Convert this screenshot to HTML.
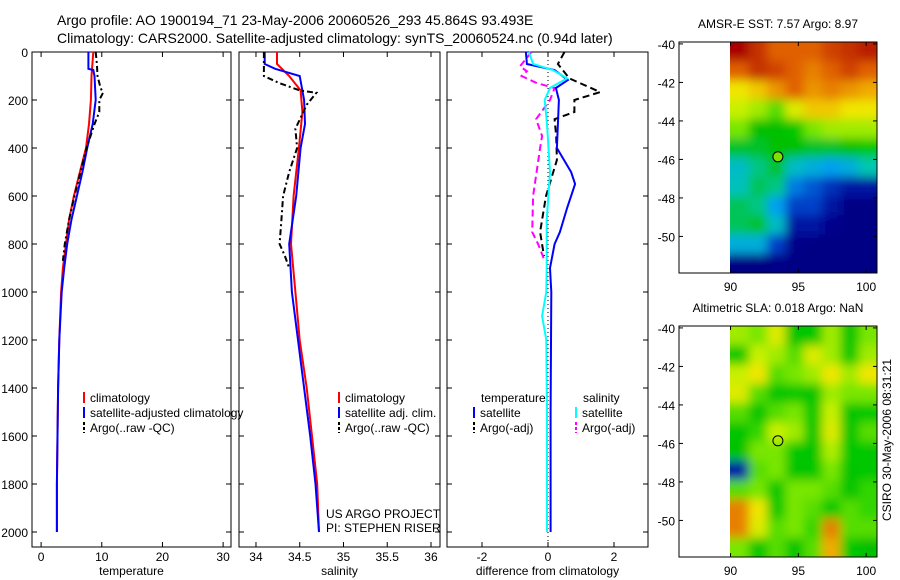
<!DOCTYPE html>
<html><head><meta charset="utf-8">
<style>
html,body{margin:0;padding:0;background:#fff;}
svg{display:block;font-family:"Liberation Sans",sans-serif;}
</style></head>
<body>
<svg id="fig" width="900" height="580" viewBox="0 0 900 580" xmlns="http://www.w3.org/2000/svg">
<defs>
<filter id="smooth" x="-10%" y="-10%" width="120%" height="120%"><feGaussianBlur stdDeviation="5"/></filter>
<clipPath id="clipSst"><rect x="730" y="42" width="147" height="231"/></clipPath>
<clipPath id="clipSla"><rect x="730" y="326" width="147" height="231"/></clipPath>
</defs>
<rect width="900" height="580" fill="#fff"/>
<text x="57" y="25" font-size="14">Argo profile: AO 1900194_71 23-May-2006 20060526_293 45.864S 93.493E</text>
<text x="57" y="43" font-size="14">Climatology: CARS2000. Satellite-adjusted climatology: synTS_20060524.nc (0.94d later)</text>
<g id="plots"></g>
</svg>
<script>
// ---- depth profile data ----
const tDepth = [0,100,200,300,400,500,600,700,800,900,1000,1200,1400,1600,1800,2000];
const tClim = [8.6,8.3,8.2,7.9,7.4,6.4,5.4,4.6,4.1,3.6,3.3,3.0,2.8,2.7,2.6,2.6];
const tSatDepth = [0,70,75,100,200,300,400,500,600,700,800,900,1000,1200,1400,1600,1800,2000];
const tSat = [7.8,7.8,8.6,8.8,9.0,8.5,7.6,6.8,5.9,5.0,4.3,3.8,3.4,3.0,2.8,2.7,2.6,2.6];
const argoDepth = [0,50,100,150,170,200,250,300,400,500,600,700,800,870];
const tArgo = [9.0,9.2,9.3,9.8,10.2,9.6,9.6,8.8,7.5,6.5,5.5,4.6,3.9,3.6];

const sDepth = [0,50,100,160,250,400,600,800,1000,1200,1400,1600,1800,2000];
const sClim = [34.24,34.24,34.38,34.51,34.53,34.49,34.43,34.40,34.45,34.50,34.58,34.64,34.70,34.72];
const sSatDepth = [0,50,70,100,200,300,400,600,800,1000,1200,1400,1600,1800,2000];
const sSat = [34.10,34.10,34.22,34.50,34.55,34.56,34.51,34.46,34.38,34.41,34.48,34.55,34.62,34.68,34.72];
const sArgoDepth = [0,100,130,160,170,220,320,400,500,600,700,800,850,900];
const sArgo = [34.09,34.09,34.27,34.50,34.69,34.58,34.45,34.47,34.38,34.31,34.29,34.27,34.33,34.38];

const dSatTDepth = [0,50,75,117,150,200,300,400,500,550,650,750,800,900,1000,1500,2000];
const dSatT = [-0.67,-0.64,0.2,0.6,0.24,0.33,0.3,0.27,0.7,0.82,0.58,0.36,0.2,0.06,0.1,0.08,0.08];
const dSatSDepth = [0,50,75,110,150,200,300,500,700,900,1000,1100,1200,1500,2000];
const dSatS = [-0.58,-0.45,0.15,0.58,0.06,-0.1,-0.03,0.06,-0.04,-0.04,-0.05,-0.18,-0.05,-0.03,-0.03];
const dArgoSDepth = [0,60,80,100,130,150,200,280,350,400,600,750,800,870];
const dArgoS = [-0.5,-0.85,-0.64,-0.8,-0.33,0.2,0.06,-0.36,-0.18,-0.24,-0.45,-0.48,-0.3,-0.1];
const dArgoTDepth = [0,50,110,167,200,250,280,350,450,600,750,850];
const dArgoT = [0.5,0.3,0.65,1.58,0.8,0.8,0.2,0.25,0.27,-0.06,-0.24,-0.12];

const depthTicks = [0,200,400,600,800,1000,1200,1400,1600,1800,2000];
const tTicks = [0,10,20,30];
const sTicks = [34,34.5,35,35.5,36];
const sTickLabels = ['34','34.5','35','35.5','36'];
const dTicks = [-2,0,2];

// ---- map data (rows north->south, lat -40..-52; cols lon 90..100.8) ----
const sstGrid = [
[0.95,0.9,0.85,0.85,0.85,0.88,0.9,0.92],
[0.85,0.9,0.88,0.85,0.82,0.85,0.88,0.85],
[0.72,0.75,0.8,0.85,0.8,0.82,0.8,0.78],
[0.68,0.65,0.6,0.7,0.75,0.75,0.72,0.72],
[0.62,0.42,0.42,0.55,0.62,0.65,0.65,0.65],
[0.4,0.4,0.42,0.42,0.4,0.4,0.44,0.55],
[0.32,0.36,0.4,0.32,0.3,0.28,0.3,0.34],
[0.33,0.38,0.36,0.25,0.22,0.18,0.15,0.15],
[0.38,0.36,0.28,0.2,0.2,0.15,0.05,0.05],
[0.38,0.4,0.32,0.15,0.15,0.12,0.05,0.05],
[0.3,0.3,0.2,0.08,0.05,0.05,0.05,0.05],
[0.05,0.05,0.08,0.05,0.05,0.05,0.05,0.05]];
const slaGrid = [
[0.65,0.62,0.7,0.5,0.55,0.65,0.5,0.62],
[0.55,0.68,0.65,0.6,0.7,0.65,0.55,0.65],
[0.68,0.72,0.6,0.62,0.65,0.72,0.65,0.72],
[0.7,0.6,0.5,0.55,0.5,0.65,0.62,0.62],
[0.6,0.5,0.6,0.62,0.55,0.68,0.5,0.55],
[0.5,0.58,0.68,0.65,0.52,0.7,0.5,0.6],
[0.45,0.62,0.62,0.55,0.5,0.66,0.55,0.55],
[0.15,0.6,0.62,0.5,0.52,0.62,0.5,0.55],
[0.6,0.62,0.55,0.62,0.62,0.6,0.48,0.58],
[0.82,0.72,0.55,0.62,0.6,0.55,0.6,0.58],
[0.82,0.7,0.6,0.62,0.58,0.82,0.6,0.6],
[0.62,0.52,0.6,0.5,0.6,0.78,0.55,0.42]];
const latTicks = [-40,-42,-44,-46,-48,-50];
const lonTicks = [90,95,100];

const NS='http://www.w3.org/2000/svg';
const root=document.getElementById('plots');
function mk(tag,attrs,parent){const e=document.createElementNS(NS,tag);for(const k in attrs)e.setAttribute(k,attrs[k]);(parent||root).appendChild(e);return e;}

const yTop=52, yBot=547;
const yD = d => yTop + d*0.24;

function panel(name,x0,x1,xmin,xmax,ticks,labels,xlabel,showY){
  const xs=v=>x0+(v-xmin)/(xmax-xmin)*(x1-x0);
  const g=mk('g',{});
  
  
  mk('rect',{x:x0,y:yTop,width:x1-x0,height:yBot-yTop,fill:'none',stroke:'#000','stroke-width':1},g);
  depthTicks.forEach(d=>{
    mk('line',{x1:x0,x2:x0+5,y1:yD(d),y2:yD(d),stroke:'#000'},g);
    mk('line',{x1:x1,x2:x1-5,y1:yD(d),y2:yD(d),stroke:'#000'},g);
    if(showY){const t=mk('text',{x:28,y:yD(d)+5,'font-size':12,'text-anchor':'end'},g);t.textContent=d;
      
      }
  });
  ticks.forEach((v,i)=>{
    mk('line',{x1:xs(v),x2:xs(v),y1:yBot,y2:yBot-5,stroke:'#000'},g);
    mk('line',{x1:xs(v),x2:xs(v),y1:yTop,y2:yTop+5,stroke:'#000'},g);
    const t=mk('text',{x:xs(v),y:yBot+14,'font-size':12,'text-anchor':'middle'},g);t.textContent=labels[i];
    
    
  });
  const xl=mk('text',{x:(x0+x1)/2,y:575,'font-size':12,'text-anchor':'middle'},g);xl.textContent=xlabel;
  
  
  return {g,xs};
}
function line(p,vals,depths,color,dash,name){
  const pts=vals.map((v,i)=>p.xs(v).toFixed(1)+','+yD(depths[i]).toFixed(1)).join(' ');
  const a={points:pts,fill:'none',stroke:color,'stroke-width':2};
  if(dash)a['stroke-dasharray']=dash;
  const l=mk('polyline',a,p.g);
  
  
}
function legend(g,x,y,items){
  items.forEach((it,i)=>{
    const yy=y+i*15;
    const a={x1:x,x2:x,y1:yy-10,y2:yy+1,stroke:it[1],'stroke-width':2};
    if(it[2])a['stroke-dasharray']='3,2';
    mk('line',a,g);
    const t=mk('text',{x:x+6,y:yy,'font-size':12},g);t.textContent=it[0];
    
    
  });
}

// Panel 1 temperature
const p1=panel('temperature-panel',32,231,-1.5,31.3,tTicks,tTicks.map(String),'temperature',true);
line(p1,tClim,tDepth,'#f00',null,'temp-climatology-line');
line(p1,tSat,tSatDepth,'#00f',null,'temp-satellite-line');
line(p1,tArgo,argoDepth,'#000','6,3,2,3','temp-argo-line');
legend(p1.g,84,402,[['climatology','#f00'],['satellite-adjusted climatology','#00f'],['Argo(..raw -QC)','#000',1]]);

// Panel 2 salinity
const p2=panel('salinity-panel',239,440,33.806,36.103,sTicks,sTickLabels,'salinity',false);
line(p2,sClim,sDepth,'#f00',null,'sal-climatology-line');
line(p2,sSat,sSatDepth,'#00f',null,'sal-satellite-line');
line(p2,sArgo,sArgoDepth,'#000','6,3,2,3','sal-argo-line');
legend(p2.g,339,402,[['climatology','#f00'],['satellite adj. clim.','#00f'],['Argo(..raw -QC)','#000',1]]);
const pr1=mk('text',{x:326,y:518,'font-size':12},p2.g);pr1.textContent='US ARGO PROJECT';


const pr2=mk('text',{x:326,y:532,'font-size':12},p2.g);pr2.textContent='PI: STEPHEN RISER';



// Panel 3 differences
const p3=panel('difference-panel',447,648,-3.06,3.03,dTicks,dTicks.map(String),'difference from climatology',false);
mk('line',{x1:p3.xs(0),x2:p3.xs(0),y1:yTop,y2:yBot,stroke:'#000','stroke-dasharray':'1,3'},p3.g);
line(p3,dArgoT,dArgoTDepth,'#000','7,4','diff-argo-temp-line');
line(p3,dArgoS,dArgoSDepth,'#f0f','7,4','diff-argo-sal-line');
line(p3,dSatT,dSatTDepth,'#00f',null,'diff-sat-temp-line');
line(p3,dSatS,dSatSDepth,'#0ff',null,'diff-sat-sal-line');
const lt=mk('text',{x:481,y:402,'font-size':12},p3.g);lt.textContent='temperature';


const ls=mk('text',{x:583,y:402,'font-size':12},p3.g);ls.textContent='salinity';


legend(p3.g,474,417,[['satellite','#00f'],['Argo(-adj)','#000',1]]);
legend(p3.g,576,417,[['satellite','#0ff'],['Argo(-adj)','#f0f',1]]);

// ---- maps ----
const cmapStops=[[0,[0,0,128]],[0.12,[0,0,140]],[0.2,[0,64,200]],[0.28,[0,160,240]],[0.34,[0,200,176]],[0.42,[0,192,0]],[0.55,[0,200,0]],[0.62,[120,230,0]],[0.68,[200,240,0]],[0.72,[240,230,0]],[0.78,[240,170,0]],[0.85,[224,96,0]],[0.95,[168,0,0]],[1,[150,0,0]]];
function cmap(v){
  for(let i=1;i<cmapStops.length;i++){
    if(v<=cmapStops[i][0]){const a=cmapStops[i-1],b=cmapStops[i];const t=(v-a[0])/(b[0]-a[0]);
      const c=a[1].map((x,k)=>Math.round(x+(b[1][k]-x)*t));return 'rgb('+c.join(',')+')';}
  }
  return 'rgb(150,0,0)';
}
function map(name,top,grid,title,filledMarker,clipId){
  const x0=679,x1=877,y0=top,lonMin=86.2,lonMax=100.8,latMax=-39.9,latMin=-51.9;
  const h=231;
  const lx=lon=>x0+(lon-lonMin)/(lonMax-lonMin)*(x1-x0);
  const ly=lat=>y0+(latMax-lat)/(latMax-latMin)*h;
  const g=mk('g',{});
  
  
  const cg=mk('g',{'clip-path':'url(#'+clipId+')'},g);
  const bg=mk('g',{filter:'url(#smooth)'},cg);
  const rows=grid.length,cols=grid[0].length;
  const cw=(lonMax-90)/cols, ch=(latMax-latMin)/rows;
  const pad=14;
  grid.forEach((row,r)=>row.forEach((v,c)=>{
    let xa=lx(90+c*cw),xb=lx(90+(c+1)*cw),ya=ly(latMax-r*ch),yb=ly(latMax-(r+1)*ch);
    if(c===0)xa-=pad; if(c===cols-1)xb+=pad; if(r===0)ya-=pad; if(r===rows-1)yb+=pad;
    const cell=mk('rect',{x:xa.toFixed(1),y:ya.toFixed(1),width:(xb-xa+0.6).toFixed(1),height:(yb-ya+0.6).toFixed(1),fill:cmap(v)},bg);
    
    
  }));
  mk('rect',{x:x0,y:y0,width:x1-x0,height:h,fill:'none',stroke:'#000'},g);
  latTicks.forEach(l=>{
    mk('line',{x1:x0,x2:x0+4,y1:ly(l),y2:ly(l),stroke:'#000'},g);
    mk('line',{x1:x1,x2:x1-4,y1:ly(l),y2:ly(l),stroke:'#000'},g);
    const t=mk('text',{x:x0-4,y:ly(l)+5,'font-size':12,'text-anchor':'end'},g);t.textContent=l;
    
    
  });
  lonTicks.forEach(l=>{
    mk('line',{x1:lx(l),x2:lx(l),y1:y0+h,y2:y0+h-4,stroke:'#000'},g);
    mk('line',{x1:lx(l),x2:lx(l),y1:y0,y2:y0+4,stroke:'#000'},g);
    const t=mk('text',{x:lx(l),y:y0+h+18,'font-size':12,'text-anchor':'middle'},g);t.textContent=l;
    
    
  });
  const tt=mk('text',{x:778,y:y0-14,'font-size':12,'text-anchor':'middle'},g);tt.textContent=title;
  
  
  const m=mk('circle',{cx:lx(93.493),cy:ly(-45.864),r:5,fill:filledMarker?'#80e000':'none',stroke:'#000'},g);
  
  
}
map('sst-map',42,sstGrid,'AMSR-E SST: 7.57 Argo: 8.97',true,'clipSst');
map('sla-map',326,slaGrid,'Altimetric SLA: 0.018 Argo: NaN',false,'clipSla');
const st=mk('text',{x:0,y:0,'font-size':12,'text-anchor':'middle',transform:'translate(891,440) rotate(-90)'});
st.textContent='CSIRO 30-May-2006 08:31:21';


</script>
</body></html>
